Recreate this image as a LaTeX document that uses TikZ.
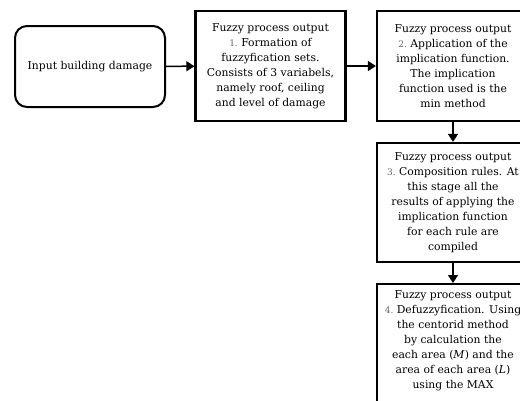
\documentclass[tikz,border=0pt]{standalone}
\usepackage{fontspec}
\setmainfont{DejaVu Serif}
\usetikzlibrary{arrows.meta}

\newcommand{\stepno}[1]{{\color{black!60}\fontsize{9}{10}\selectfont #1}\ }

\begin{document}
\begin{tikzpicture}[
  x=1pt, y=-1pt,
  font=\fontsize{10.8}{15}\selectfont,
  startbox/.style={draw, line width=2pt, rounded corners=12pt,
    minimum width=150pt, minimum height=81pt, align=center},
  procbox/.style={draw, line width=2.2pt, minimum width=150pt,
    align=center, inner sep=1pt},
  flow/.style={line width=1.5pt, -{Triangle[length=8pt,width=10pt]}}
]
\useasboundingbox (0,0) rectangle (520,400);
\clip (0,0) rectangle (520,400);

\node [startbox] (input) at (90,66.5) {Input building damage};

\node [procbox, minimum height=110pt] (fuzzy) at (270.5,66) {Fuzzy process output\\
  \stepno{1.}Formation of\\
  fuzzyfication sets.\\
  Consists of 3 variabels,\\
  namely roof, ceiling\\
  and level of damage};

\node [procbox, minimum width=152pt, minimum height=110pt] (implic) at (453,66) {Fuzzy process output\\
  \stepno{2.}Application of the\\
  implication function.\\
  The implication\\
  function used is the\\
  min method};

\node [procbox, minimum width=152pt, minimum height=119pt] (compo) at (453,202.5) {Fuzzy process output\\
  \stepno{3.}Composition rules. At\\
  this stage all the\\
  results of applying the\\
  implication function\\
  for each rule are\\
  compiled};

\node [procbox, minimum width=152pt, minimum height=150pt, anchor=north,
  text depth=40pt] (defuzz) at (453,283) {Fuzzy process output\\
  \stepno{4.}Defuzzyfication. Using\\
  the centorid method\\
  by calculation the\\
  each area (\textit{M}) and the\\
  area of each area (\textit{L})\\
  using the MAX};

\draw [flow] (input) -- (fuzzy);
\draw [flow] (fuzzy) -- (implic);
\draw [flow] (implic) -- (compo);
\draw [flow] (compo) -- (defuzz);
\end{tikzpicture}
\end{document}
